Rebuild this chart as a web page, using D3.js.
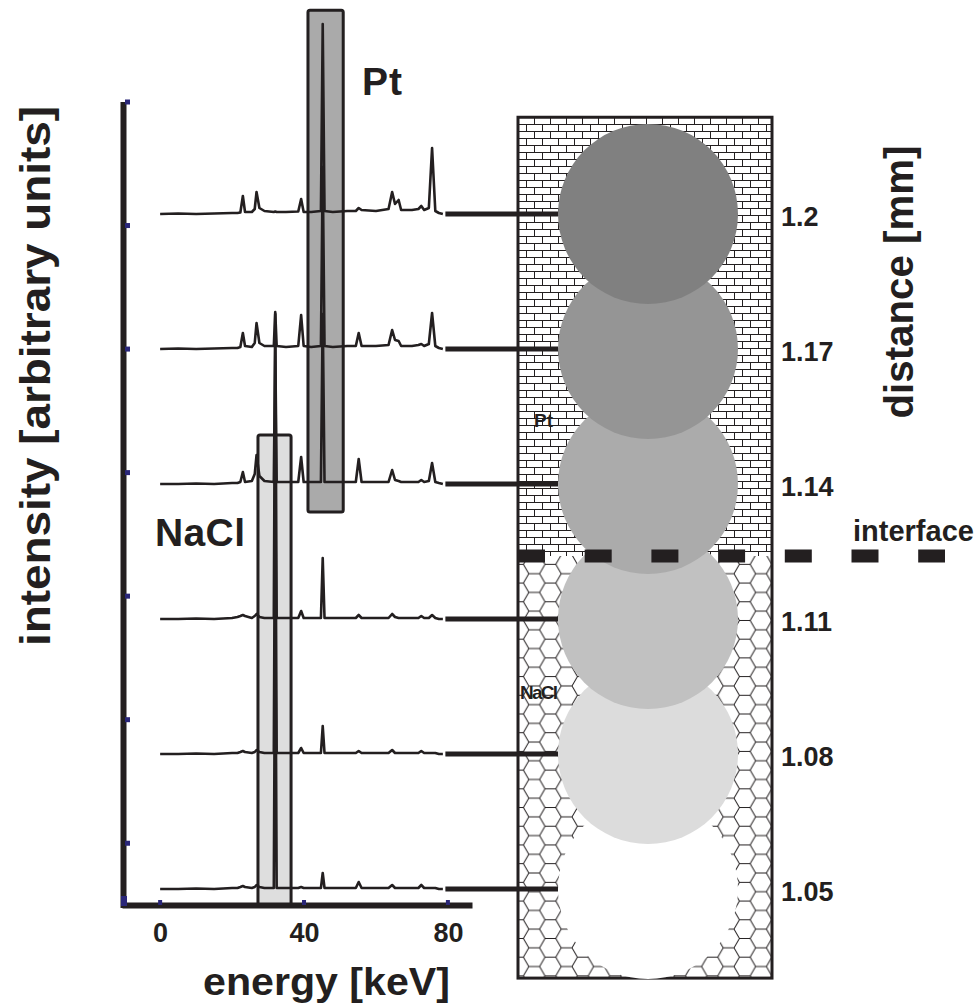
<!DOCTYPE html>
<html lang="en">
<head>
<meta charset="utf-8">
<script src="https://d3js.org/d3.v7.min.js"></script>
<style>
  body { margin: 0; background: #fff; }
  text { font-family: "Liberation Sans", Arial, sans-serif; font-weight: bold; fill: #231f20; }
</style>
</head>
<body>
<script>
// energy grid shared by every spectrum (keV)
var energy = [0, 5, 10, 15, 20, 21.5, 22.3, 23.0, 23.6, 25.5, 26.3, 26.8, 27.6, 29, 31.6, 32, 32.4, 35,
  38.4, 39.2, 39.9, 42, 44.7, 45.2, 45.7, 48, 52, 54.4, 55.2, 56, 60, 63.5, 64.5, 65.3, 66.3, 67,
  70, 71.8, 72.6, 73.4, 74.7, 75.6, 76.5, 77.5, 78.6];

// intensities (arbitrary units), one array per distance
var spec120 = [0, 0.5, 0, 0.5, 1, 1, 1.5, 18, 2, 2, 5, 22, 6, 3, 2, 2.5, 2, 2,
  2.5, 15, 2, 2, 3, 190, 3, 2, 3, 3, 6, 4, 3, 5, 22, 10, 14, 4,
  4, 5, 8, 4, 6, 66, 3, 1, 0];
var spec117 = [0, 0.5, 0, 0.5, 1, 1, 2, 16, 3, 2, 6, 26, 6, 3, 3, 37, 3, 2,
  3, 34, 3, 2, 3, 182, 3, 2, 3, 3, 16, 3, 3, 4, 19, 9, 8, 3,
  3, 4, 5, 3, 5, 36, 3, 1, 0];
var spec114 = [0, 0, 0.5, 0, 1, 1, 2, 12, 2, 3, 10, 29, 8, 3, 2, 140, 2, 2,
  2, 27, 2, 2, 2, 170, 2, 2, 2, 2, 25, 2, 2, 2, 14, 4, 3, 2,
  2, 2, 4, 2, 3, 21, 2, 1, 0];
var spec111 = [0, 0, 0.5, 0, 1, 2, 3, 4, 3, 1, 3, 5, 2, 1, 1, 305, 1, 1,
  1, 8, 1, 1, 1, 61, 1, 1, 1, 1, 4, 1, 1, 1, 5, 2, 1, 1,
  1, 1, 3, 1, 1, 4, 1, 0, 0];
var spec108 = [0, 0, 0.5, 0, 1, 1, 2, 3, 2, 1, 2, 4, 2, 1, 1, 300, 1, 1,
  1, 6, 1, 1, 1, 28, 1, 1, 1, 1, 3, 1, 1, 1, 4, 1, 1, 1,
  1, 1, 3, 1, 1, 1, 1, 0, 0];
var spec105 = [0, 0, 0.5, 0, 1, 1, 2, 3, 2, 1, 2, 4, 2, 1, 1, 298, 1, 1,
  1, 2, 1, 1, 1, 16, 1, 1, 1, 1, 7, 1, 1, 1, 4, 1, 1, 1,
  1, 1, 4, 1, 1, 1, 1, 0, 0];

var distances = [1.2, 1.17, 1.14, 1.11, 1.08, 1.05];
var spectra = [spec120, spec117, spec114, spec111, spec108, spec105];
var circleFill = ["#808080", "#959595", "#ababab", "#c1c1c1", "#dcdcdc", "#ffffff"];
var energyTicks = [0, 40, 80];
var intensityTicks = [0, 1, 2, 3, 4, 5, 6];
var distanceLabels = ["1.2", "1.17", "1.14", "1.11", "1.08", "1.05"];

// highlighted energy windows (keV) and their vertical extent (mm on the distance scale)
var ptWindow = [41.1, 50.9], ptSpan = [1.1338, 1.2453];
var naclWindow = [27.2, 36.4], naclTop = 1.1509;
var interfaceAt = 1.124;
var sampleSpan = [1.0302, 1.2215];

var W = 978, H = 1003, dark = "#231f20", tickBlue = "#2a2678";

var svg = d3.select("body").append("svg").attr("width", W).attr("height", H);

var x = d3.scaleLinear().domain([-10.6, 86.7]).range([122, 472]);
var yD = d3.scaleLinear().domain([1.05, 1.2]).range([889, 214]);
var yA = d3.scaleLinear().domain([-0.5, 6]).range([905, 102]);
var iScale = d3.scaleLinear().domain([0, 100]).range([0, 100]);

// patterns for the sample sketch
var defs = svg.append("defs");
var brick = defs.append("pattern").attr("id", "brick").attr("patternUnits", "userSpaceOnUse")
  .attr("x", 518).attr("y", 117).attr("width", 16).attr("height", 14);
brick.append("path").attr("d", "M0,0.5H16M0,7.5H16M0.5,0V7.5M8.5,7.5V14")
  .attr("stroke", dark).attr("stroke-width", 1).attr("fill", "none");

var s = 10.8, hh = Math.sqrt(3) * s;
var hex = defs.append("pattern").attr("id", "hex").attr("patternUnits", "userSpaceOnUse")
  .attr("x", 518).attr("y", 555).attr("width", 3 * s).attr("height", hh);
hex.append("path")
  .attr("d", "M0," + hh / 2 + "H" + s / 2 + "L" + s + ",0H" + 2 * s + "L" + 2.5 * s + "," + hh / 2 + "H" + 3 * s +
    "M" + s / 2 + "," + hh / 2 + "L" + s + "," + hh + "H" + 2 * s + "L" + 2.5 * s + "," + hh / 2)
  .attr("stroke", dark).attr("stroke-width", 1).attr("fill", "none");

// energy windows
svg.append("rect")
  .attr("x", x(ptWindow[0])).attr("width", x(ptWindow[1]) - x(ptWindow[0]))
  .attr("y", yD(ptSpan[1])).attr("height", yD(ptSpan[0]) - yD(ptSpan[1]))
  .attr("rx", 2).attr("fill", "#aaaaaa").attr("stroke", dark).attr("stroke-width", 3);
svg.append("rect")
  .attr("x", x(naclWindow[0])).attr("width", x(naclWindow[1]) - x(naclWindow[0]))
  .attr("y", yD(naclTop)).attr("height", yA(-0.5) - yD(naclTop))
  .attr("rx", 2).attr("fill", "#dedede").attr("stroke", dark).attr("stroke-width", 3);

// spectra
var line = d3.line();
spectra.forEach(function(vals, k) {
  var base = yD(distances[k]);
  var pts = energy.map(function(e, i) { return [x(e), base - iScale(vals[i])]; });
  svg.append("path").attr("d", line(pts)).attr("fill", "none")
    .attr("stroke", dark).attr("stroke-width", 2.6).attr("stroke-linejoin", "round");
});

// axes
var xAxis = svg.append("g").attr("transform", "translate(0," + yA(-0.5) + ")")
  .call(d3.axisBottom(x).tickValues(energyTicks).tickSize(0).tickSizeOuter(0).tickPadding(18));
xAxis.select(".domain").attr("stroke", dark).attr("stroke-width", 6);
xAxis.selectAll("text").attr("font-size", 27).attr("fill", dark)
  .style("font-family", '"Liberation Sans", Arial, sans-serif').style("font-weight", "bold");
svg.selectAll(".xtick").data(energyTicks).enter().append("rect")
  .attr("x", function(d) { return x(d) - 2; }).attr("y", yA(-0.5) - 5).attr("width", 4).attr("height", 5)
  .attr("fill", tickBlue);

svg.append("line").attr("x1", 123.5).attr("x2", 123.5).attr("y1", yA(6)).attr("y2", yA(-0.5) + 3)
  .attr("stroke", dark).attr("stroke-width", 6);
svg.selectAll(".ytick").data(intensityTicks).enter().append("rect")
  .attr("x", 125).attr("y", function(d) { return yA(d) - 2.5; }).attr("width", 5).attr("height", 5)
  .attr("fill", tickBlue);
svg.append("rect").attr("x", 121).attr("y", yA(-0.5) - 9).attr("width", 6).attr("height", 10).attr("fill", tickBlue);

// sample sketch: brick (Pt) above the interface, honeycomb (NaCl) below
var bx0 = 518, bx1 = 772, r = 90, cx = 648;
var boxTop = yD(sampleSpan[1]), boxBottom = yD(sampleSpan[0]), iface = yD(interfaceAt);
svg.append("rect").attr("x", bx0).attr("y", boxTop).attr("width", bx1 - bx0).attr("height", iface - boxTop)
  .attr("fill", "url(#brick)");
svg.append("rect").attr("x", bx0).attr("y", iface).attr("width", bx1 - bx0).attr("height", boxBottom - iface)
  .attr("fill", "url(#hex)");
svg.append("rect").attr("x", bx0).attr("y", boxTop).attr("width", bx1 - bx0).attr("height", boxBottom - boxTop)
  .attr("fill", "none").attr("stroke", dark).attr("stroke-width", 3);

svg.append("text").attr("x", 534).attr("y", 427).attr("font-size", 19).text("Pt");
svg.append("text").attr("x", 520).attr("y", 699).attr("font-size", 19).attr("textLength", 38).text("NaCl");

// probe spots, deepest first so the upper ones sit on top
svg.selectAll(".spot").data(d3.range(distances.length).reverse()).enter().append("circle")
  .attr("cx", cx).attr("cy", function(k) { return yD(distances[k]); }).attr("r", r)
  .attr("fill", function(k) { return circleFill[k]; });

// interface line
svg.append("line").attr("x1", bx0).attr("x2", 945).attr("y1", iface).attr("y2", iface)
  .attr("stroke", dark).attr("stroke-width", 13).attr("stroke-dasharray", "27 39.7");
svg.append("text").attr("x", 853).attr("y", iface - 15).attr("font-size", 29).text("interface");

// connectors from spectra to spots
svg.selectAll(".link").data(distances).enter().append("line")
  .attr("x1", x(79.3)).attr("x2", cx - r).attr("y1", function(d) { return yD(d); }).attr("y2", function(d) { return yD(d); })
  .attr("stroke", dark).attr("stroke-width", 5);

svg.selectAll(".dlab").data(distances).enter().append("text")
  .attr("x", 781).attr("y", function(d) { return yD(d) + 3; })
  .attr("dominant-baseline", "central").attr("font-size", 27)
  .text(function(d, i) { return distanceLabels[i]; });

// labels
svg.append("text").attr("x", 362).attr("y", 95).attr("font-size", 39).attr("textLength", 40).text("Pt");
svg.append("text").attr("x", 155).attr("y", 546).attr("font-size", 39).attr("textLength", 90).text("NaCl");
svg.append("text").attr("x", 326.5).attr("y", 995).attr("text-anchor", "middle").attr("font-size", 38)
  .attr("textLength", 247).attr("lengthAdjust", "spacingAndGlyphs").text("energy [keV]");
svg.append("text").attr("transform", "translate(50,376) rotate(-90)").attr("text-anchor", "middle")
  .attr("font-size", 42).attr("textLength", 540).attr("lengthAdjust", "spacingAndGlyphs")
  .text("intensity [arbitrary units]");
svg.append("text").attr("transform", "translate(913,282) rotate(-90)").attr("text-anchor", "middle")
  .attr("font-size", 40).attr("textLength", 273).attr("lengthAdjust", "spacingAndGlyphs")
  .text("distance [mm]");
</script>
</body>
</html>
